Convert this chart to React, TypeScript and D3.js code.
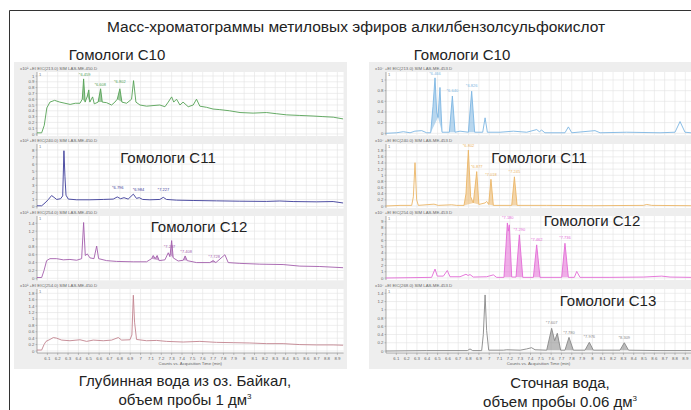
import { useEffect, useRef } from "react";
import * as d3 from "d3";

type Pt = [number, number];
type PeakLabel = { t: number; v: number; text: string };

// retention time ticks (min)
const xTicks = [
  6.1, 6.2, 6.3, 6.4, 6.5, 6.6, 6.7, 6.8, 6.9, 7, 7.1, 7.2, 7.3, 7.4, 7.5,
  7.6, 7.7, 7.8, 7.9, 8, 8.1, 8.2, 8.3, 8.4, 8.5, 8.6, 8.7, 8.8, 8.9,
];

// ---- Байкал (left) ----
const baikalC10: Pt[] = [
  [6.0, 0.02], [6.045, 0.02], [6.07, 0.15], [6.095, 0.45], [6.125, 0.55], [6.17, 0.58],
  [6.22, 0.55], [6.27, 0.53], [6.32, 0.51], [6.37, 0.53], [6.415, 0.53], [6.437, 0.6],
  [6.45, 0.95], [6.465, 0.55], [6.485, 0.65], [6.5, 0.76], [6.51, 0.55], [6.537, 0.64],
  [6.553, 0.52], [6.59, 0.55], [6.614, 0.78], [6.63, 0.55], [6.672, 0.54], [6.72, 0.5],
  [6.752, 0.55], [6.775, 0.6], [6.8, 0.78], [6.82, 0.55], [6.865, 0.53], [6.913, 0.6],
  [6.932, 0.92], [6.955, 0.55], [6.994, 0.5], [7.058, 0.48], [7.12, 0.49], [7.186, 0.5],
  [7.235, 0.47], [7.267, 0.55], [7.3, 0.64], [7.32, 0.55], [7.347, 0.6], [7.38, 0.5],
  [7.41, 0.55], [7.46, 0.47], [7.508, 0.5], [7.54, 0.6], [7.572, 0.48], [7.637, 0.46],
  [7.7, 0.43], [7.765, 0.42], [7.86, 0.4], [7.96, 0.37], [8.087, 0.36], [8.215, 0.37],
  [8.31, 0.35], [8.41, 0.33], [8.537, 0.32], [8.665, 0.31], [8.76, 0.3], [8.86, 0.29],
  [8.955, 0.26],
];
const baikalC10Peaks: Pt[] = [[6.437, 6.465], [6.485, 6.51], [6.59, 6.63], [6.775, 6.82]];
const baikalC10Labels: PeakLabel[] = [
  { t: 6.46, v: 0.98, text: "*6.459" },
  { t: 6.61, v: 0.81, text: "*6.608" },
  { t: 6.8, v: 0.86, text: "*6.802" },
];

const baikalC11: Pt[] = [
  [6.0, 0.1], [6.045, 0.1], [6.077, 0.5], [6.11, 1.0], [6.141, 1.55], [6.164, 1.3],
  [6.19, 1.0], [6.228, 1.1], [6.248, 1.5], [6.26, 7.9], [6.27, 4.2], [6.28, 1.6],
  [6.302, 1.05], [6.383, 0.95], [6.511, 0.95], [6.64, 1.0], [6.736, 1.05], [6.775, 1.35],
  [6.807, 1.1], [6.84, 1.25], [6.88, 1.05], [6.93, 1.75], [6.96, 1.15], [6.987, 1.25],
  [7.02, 1.0], [7.09, 0.95], [7.186, 1.0], [7.219, 1.3], [7.25, 1.0], [7.347, 0.9],
  [7.508, 0.85], [7.733, 0.8], [7.958, 0.75], [8.215, 0.72], [8.344, 0.78], [8.473, 0.7],
  [8.698, 0.66], [8.859, 0.7], [8.955, 0.5],
];
const baikalC11Peaks: Pt[] = [[6.755, 6.81], [6.965, 7.005], [7.2, 7.24]];
const baikalC11Labels: PeakLabel[] = [
  { t: 6.78, v: 2.3, text: "*6.796" },
  { t: 6.98, v: 2.0, text: "*6.984" },
  { t: 7.22, v: 2.0, text: "*7.227" },
];

const baikalC12: Pt[] = [
  [6.0, 0.02], [6.045, 0.02], [6.068, 0.2], [6.093, 0.45], [6.125, 0.5], [6.19, 0.5],
  [6.254, 0.47], [6.318, 0.48], [6.383, 0.46], [6.431, 0.5], [6.45, 1.42], [6.466, 0.58],
  [6.486, 0.62], [6.511, 0.52], [6.55, 0.5], [6.576, 0.82], [6.595, 0.5], [6.672, 0.45],
  [6.768, 0.43], [6.929, 0.42], [7.058, 0.42], [7.106, 0.5], [7.122, 0.58], [7.141, 0.5],
  [7.16, 0.58], [7.18, 0.45], [7.235, 0.47], [7.267, 0.65], [7.283, 0.55], [7.3, 0.96],
  [7.315, 0.52], [7.363, 0.44], [7.412, 0.46], [7.43, 0.57], [7.45, 0.45], [7.54, 0.4],
  [7.669, 0.4], [7.7, 0.45], [7.727, 0.4], [7.814, 0.6], [7.846, 0.4], [7.958, 0.38],
  [8.151, 0.36], [8.376, 0.35], [8.537, 0.31], [8.73, 0.3], [8.955, 0.27],
];
const baikalC12Peaks: Pt[] = [[7.1, 7.18], [7.255, 7.315], [7.412, 7.45], [7.669, 7.727]];
const baikalC12Labels: PeakLabel[] = [
  { t: 7.28, v: 0.75, text: "*7.287" },
  { t: 7.44, v: 0.62, text: "*7.408" },
  { t: 7.71, v: 0.5, text: "*7.728" },
];

const baikalC13: Pt[] = [
  [6.0, 0.03], [6.045, 0.03], [6.068, 0.2], [6.087, 0.3], [6.125, 0.36], [6.158, 0.42],
  [6.19, 0.4], [6.238, 0.34], [6.318, 0.32], [6.415, 0.35], [6.479, 0.3], [6.543, 0.34],
  [6.64, 0.32], [6.72, 0.34], [6.785, 0.42], [6.817, 0.34], [6.897, 0.35], [6.916, 0.5],
  [6.93, 1.74], [6.942, 0.9], [6.961, 0.36], [7.058, 0.32], [7.154, 0.33], [7.25, 0.3],
  [7.412, 0.28], [7.572, 0.3], [7.733, 0.27], [7.894, 0.26], [8.055, 0.25], [8.215, 0.23],
  [8.376, 0.23], [8.537, 0.2], [8.698, 0.19], [8.859, 0.19], [8.955, 0.18],
];

// ---- сточная вода (right) ----
const wasteC10: Pt[] = [
  [6.0, 0.0], [6.103, 0.01], [6.168, 0.03], [6.233, 0.01], [6.28, 0.04], [6.346, 0.05],
  [6.394, 0.01], [6.433, 0.01], [6.455, 0.5], [6.475, 1.04], [6.491, 0.4], [6.504, 0.3],
  [6.523, 0.86], [6.543, 0.02], [6.614, 0.02], [6.643, 0.7], [6.669, 0.02], [6.717, 0.04],
  [6.798, 0.02], [6.83, 0.79], [6.859, 0.02], [6.937, 0.02], [6.96, 0.29], [6.982, 0.02],
  [7.105, 0.02], [7.234, 0.04], [7.363, 0.02], [7.46, 0.07], [7.486, 0.03], [7.508, 0.06],
  [7.54, 0.01], [7.734, 0.01], [7.767, 0.12], [7.8, 0.01], [8.025, 0.05], [8.074, 0.01],
  [8.332, 0.02], [8.655, 0.01], [8.8, 0.02], [8.849, 0.22], [8.897, 0.02], [8.955, 0.01],
];
const wasteC10Peaks: Pt[] = [[6.433, 6.504], [6.504, 6.543], [6.614, 6.669], [6.798, 6.859]];
const wasteC10Labels: PeakLabel[] = [
  { t: 6.475, v: 1.08, text: "*6.466" },
  { t: 6.643, v: 0.76, text: "*6.640" },
  { t: 6.83, v: 0.85, text: "*6.826" },
];

const wasteC11: Pt[] = [
  [6.0, 0.0], [6.136, 0.02], [6.249, 0.02], [6.265, 0.3], [6.281, 1.41], [6.297, 0.2],
  [6.313, 0.02], [6.465, 0.06], [6.507, 0.02], [6.636, 0.04], [6.685, 0.02], [6.756, 0.02],
  [6.775, 0.4], [6.798, 1.82], [6.82, 0.3], [6.846, 0.1], [6.879, 1.12], [6.9, 0.05],
  [6.96, 0.1], [6.975, 0.15], [6.995, 0.05], [7.017, 0.87], [7.04, 0.02], [7.218, 0.02],
  [7.244, 0.95], [7.27, 0.02], [7.557, 0.02], [8.01, 0.01], [8.494, 0.02], [8.526, 0.05],
  [8.574, 0.02], [8.955, 0.01],
];
const wasteC11Peaks: Pt[] = [[6.756, 6.846], [6.846, 6.9], [6.995, 7.04], [7.218, 7.27]];
const wasteC11Labels: PeakLabel[] = [
  { t: 6.8, v: 1.88, text: "*6.802" },
  { t: 6.88, v: 1.2, text: "*6.877" },
  { t: 7.017, v: 0.95, text: "*7.018" },
  { t: 7.244, v: 1.03, text: "*7.245" },
];

const wasteC12: Pt[] = [
  [6.0, 0.0], [6.233, 0.05], [6.442, 0.1], [6.475, 1.43], [6.497, 0.3], [6.556, 0.3],
  [6.594, 1.2], [6.62, 0.2], [6.717, 0.2], [6.775, 0.6], [6.795, 0.4], [6.814, 0.55],
  [6.846, 0.15], [6.975, 0.2], [7.04, 0.5], [7.072, 0.1], [7.143, 0.1], [7.162, 5.0],
  [7.176, 8.8], [7.185, 7.5], [7.195, 8.5], [7.218, 0.15], [7.26, 0.15], [7.292, 6.9],
  [7.325, 0.1], [7.428, 0.1], [7.46, 5.3], [7.492, 0.1], [7.702, 0.1], [7.734, 5.55],
  [7.767, 0.1], [7.825, 0.1], [7.848, 1.05], [7.88, 0.1], [8.17, 0.1], [8.494, 0.15],
  [8.671, 0.3], [8.752, 0.15], [8.955, 0.1],
];
const wasteC12Peaks: Pt[] = [[7.143, 7.218], [7.26, 7.325], [7.428, 7.492], [7.702, 7.767]];
const wasteC12Labels: PeakLabel[] = [
  { t: 7.18, v: 9.2, text: "*7.180" },
  { t: 7.292, v: 7.4, text: "*7.290" },
  { t: 7.46, v: 5.8, text: "*7.462" },
  { t: 7.734, v: 6.0, text: "*7.736" },
];

const wasteC13: Pt[] = [
  [6.0, 0.0], [6.394, 0.01], [6.717, 0.01], [6.788, 0.01], [6.814, 0.05], [6.84, 0.01],
  [6.927, 0.01], [6.943, 0.4], [6.96, 1.36], [6.975, 0.5], [6.995, 0.02], [7.137, 0.02],
  [7.17, 0.03], [7.3, 0.02], [7.363, 0.05], [7.41, 0.08], [7.444, 0.03], [7.557, 0.02],
  [7.605, 0.55], [7.634, 0.25], [7.66, 0.43], [7.692, 0.02], [7.734, 0.02], [7.773, 0.33],
  [7.815, 0.02], [7.928, 0.02], [7.97, 0.21], [8.009, 0.02], [8.267, 0.02], [8.309, 0.2],
  [8.35, 0.02], [8.655, 0.01], [8.955, 0.01],
];
const wasteC13Peaks: Pt[] = [[7.557, 7.692], [7.734, 7.815], [7.928, 8.009], [8.267, 8.35]];
const wasteC13Labels: PeakLabel[] = [
  { t: 7.605, v: 0.62, text: "*7.607" },
  { t: 7.773, v: 0.4, text: "*7.780" },
  { t: 7.97, v: 0.28, text: "*7.976" },
  { t: 8.309, v: 0.27, text: "*8.309" },
];

const ticks01 = [0, 0.1, 0.2, 0.3, 0.4, 0.5, 0.6, 0.7, 0.8, 0.9, 1];
const ticks02to1 = [0, 0.2, 0.4, 0.6, 0.8, 1];
const ticks02to14 = [0, 0.2, 0.4, 0.6, 0.8, 1, 1.2, 1.4];
const ticks02to18 = [0, 0.2, 0.4, 0.6, 0.8, 1, 1.2, 1.4, 1.6, 1.8];
const ticks0to8 = [0, 1, 2, 3, 4, 5, 6, 7, 8];
const ticks0to9 = [0, 1, 2, 3, 4, 5, 6, 7, 8, 9];

const panels = [
  { side: 0, row: 0, trace: baikalC10, peaks: baikalC10Peaks, labels: baikalC10Labels, ticks: ticks01, color: "#55a255", header: "x10¹  +EI EIC(213.0) SIM LAS-ME-450.D", zero: 134, top: 76 },
  { side: 0, row: 1, trace: baikalC11, peaks: baikalC11Peaks, labels: baikalC11Labels, ticks: ticks0to8, color: "#3b3b98", header: "x10¹  +EI EIC(240.0) SIM LAS-ME-450.D", zero: 206.5, top: 150 },
  { side: 0, row: 2, trace: baikalC12, peaks: baikalC12Peaks, labels: baikalC12Labels, ticks: ticks02to14, color: "#a35dab", header: "x10¹  +EI EIC(254.0) SIM LAS-ME-450.D", zero: 278.3, top: 223.3 },
  { side: 0, row: 3, trace: baikalC13, peaks: [] as Pt[], labels: [] as PeakLabel[], ticks: ticks02to18, color: "#c2838f", header: "x10¹  +EI EIC(254.0) SIM LAS-ME-450.D", zero: 351, top: 293.3 },
  { side: 1, row: 0, trace: wasteC10, peaks: wasteC10Peaks, labels: wasteC10Labels, ticks: ticks02to1, color: "#7db6e2", header: "x10⁷  +EI EIC(213.0) SIM LAS-ME-453.D", zero: 133.3, top: 80 },
  { side: 1, row: 1, trace: wasteC11, peaks: wasteC11Peaks, labels: wasteC11Labels, ticks: ticks02to18, color: "#ebb566", header: "x10⁷  +EI EIC(240.0) SIM LAS-ME-453.D", zero: 206, top: 150.7 },
  { side: 1, row: 2, trace: wasteC12, peaks: wasteC12Peaks, labels: wasteC12Labels, ticks: ticks0to9, color: "#e36bd6", header: "x10⁷  +EI EIC(254.0) SIM LAS-ME-453.D", zero: 278, top: 221.7 },
  { side: 1, row: 3, trace: wasteC13, peaks: wasteC13Peaks, labels: wasteC13Labels, ticks: ticks02to14, color: "#878787", header: "x10⁷  +EI EIC(268.0) SIM LAS-ME-453.D", zero: 351, top: 293.3 },
];

const headerY = [69, 141, 213, 286];
const sides = [
  { bgX: 14, bgW: 333, x0: 37, x1: 343.6 },
  { bgX: 369, bgW: 330, x0: 386, x1: 691.5 },
];

const FONT = "'Liberation Sans', Arial, sans-serif";

function App() {
  const ref = useRef<SVGSVGElement>(null);

  useEffect(() => {
    const svg = d3.select(ref.current);
    svg.selectAll("*").remove();

    svg.append("rect").attr("width", 691).attr("height", 410).attr("fill", "#fff");
    svg
      .append("path")
      .attr("d", "M9.5,412V10.5H700")
      .attr("fill", "none")
      .attr("stroke", "#333")
      .attr("stroke-width", 1);

    svg
      .append("text")
      .attr("x", 356)
      .attr("y", 32)
      .attr("text-anchor", "middle")
      .attr("font-family", FONT)
      .attr("font-size", 15.5)
      .attr("fill", "#222")
      .text("Масс-хроматограммы метиловых эфиров алкилбензолсульфокислот");

    sides.forEach((s) => {
      svg
        .append("rect")
        .attr("x", s.bgX)
        .attr("y", 62)
        .attr("width", s.bgW)
        .attr("height", 307)
        .attr("fill", "#eeeeee");
    });

    panels.forEach((p) => {
      const s = sides[p.side];
      const x = d3.scaleLinear().domain([6.0, 8.96]).range([s.x0, s.x1]);
      const topTick = p.ticks[p.ticks.length - 1];
      const y = d3.scaleLinear().domain([0, topTick]).range([p.zero, p.top]);
      const g = svg.append("g");
      const plotTop = headerY[p.row] + 3;
      const plotBottom = p.zero + 2;

      g.append("rect")
        .attr("x", s.x0)
        .attr("y", plotTop)
        .attr("width", s.x1 - s.x0)
        .attr("height", plotBottom - plotTop)
        .attr("fill", "#fff");

      g.selectAll(".vg")
        .data(xTicks)
        .enter()
        .append("line")
        .attr("x1", (d) => x(d))
        .attr("x2", (d) => x(d))
        .attr("y1", plotTop)
        .attr("y2", plotBottom)
        .attr("stroke", "#e2e2e2")
        .attr("stroke-width", 0.6);

      g.selectAll(".hg")
        .data(p.ticks)
        .enter()
        .append("line")
        .attr("x1", s.x0)
        .attr("x2", s.x1)
        .attr("y1", (d) => y(d))
        .attr("y2", (d) => y(d))
        .attr("stroke", "#e2e2e2")
        .attr("stroke-width", 0.6);

      // y axis
      g.append("line")
        .attr("x1", s.x0)
        .attr("x2", s.x0)
        .attr("y1", plotTop)
        .attr("y2", plotBottom)
        .attr("stroke", "#888")
        .attr("stroke-width", 0.7);
      g.selectAll(".yt")
        .data(p.ticks)
        .enter()
        .append("line")
        .attr("x1", s.x0 - 1.5)
        .attr("x2", s.x0)
        .attr("y1", (d) => y(d))
        .attr("y2", (d) => y(d))
        .attr("stroke", "#888")
        .attr("stroke-width", 0.5);
      g.selectAll(".yl")
        .data(p.ticks)
        .enter()
        .append("text")
        .attr("x", s.x0 - 2.5)
        .attr("y", (d) => y(d) + 1.5)
        .attr("text-anchor", "end")
        .attr("font-family", FONT)
        .attr("font-size", 4.3)
        .attr("fill", "#666")
        .text((d) => String(d));

      g.append("text")
        .attr("x", s.bgX + 6)
        .attr("y", headerY[p.row] + 1)
        .attr("font-family", FONT)
        .attr("font-size", 4.3)
        .attr("fill", "#666")
        .text(p.header);

      g.append("text")
        .attr("x", s.x0 + 2)
        .attr("y", plotTop + 4)
        .attr("font-family", FONT)
        .attr("font-size", 4)
        .attr("fill", "#777")
        .text("1");

      // shaded integrated peaks
      const line = d3
        .line<Pt>()
        .x((d) => x(d[0]))
        .y((d) => y(d[1]));
      p.peaks.forEach(([from, to]) => {
        const seg = p.trace.filter((d) => d[0] >= from - 1e-6 && d[0] <= to + 1e-6);
        if (seg.length < 2) return;
        g.append("path")
          .attr("d", line(seg) + "Z")
          .attr("fill", p.color)
          .attr("fill-opacity", 0.55)
          .attr("stroke", "none");
      });

      g.append("path")
        .attr("d", line(p.trace))
        .attr("fill", "none")
        .attr("stroke", p.color)
        .attr("stroke-width", 0.9)
        .attr("stroke-linejoin", "round");

      g.selectAll(".pl")
        .data(p.labels)
        .enter()
        .append("text")
        .attr("x", (d) => x(d.t))
        .attr("y", (d) => y(d.v) - 1)
        .attr("text-anchor", "middle")
        .attr("font-family", FONT)
        .attr("font-size", 4)
        .attr("fill", p.color)
        .text((d) => d.text);

      if (p.row === 3) {
        g.append("line")
          .attr("x1", s.x0)
          .attr("x2", s.x1)
          .attr("y1", plotBottom)
          .attr("y2", plotBottom)
          .attr("stroke", "#888")
          .attr("stroke-width", 0.7);
        g.selectAll(".xt")
          .data(xTicks)
          .enter()
          .append("line")
          .attr("x1", (d) => x(d))
          .attr("x2", (d) => x(d))
          .attr("y1", plotBottom)
          .attr("y2", plotBottom + 2)
          .attr("stroke", "#888")
          .attr("stroke-width", 0.5);
        g.selectAll(".xl")
          .data(xTicks)
          .enter()
          .append("text")
          .attr("x", (d) => x(d))
          .attr("y", plotBottom + 7)
          .attr("text-anchor", "middle")
          .attr("font-family", FONT)
          .attr("font-size", 4.3)
          .attr("fill", "#666")
          .text((d) => String(d));
        g.append("text")
          .attr("x", (s.x0 + Math.min(s.x1, 691)) / 2)
          .attr("y", plotBottom + 12)
          .attr("text-anchor", "middle")
          .attr("font-family", FONT)
          .attr("font-size", 4.3)
          .attr("fill", "#666")
          .text("Counts vs. Acquisition Time (min)");
      }
    });

    const big = [
      { x: 117, y: 60, t: "Гомологи С10" },
      { x: 462, y: 60, t: "Гомологи С10" },
      { x: 168, y: 163, t: "Гомологи С11" },
      { x: 539, y: 163, t: "Гомологи С11" },
      { x: 199, y: 232, t: "Гомологи С12" },
      { x: 592, y: 226, t: "Гомологи С12" },
      { x: 608, y: 306, t: "Гомологи С13" },
    ];
    big.forEach((b) => {
      svg
        .append("text")
        .attr("x", b.x)
        .attr("y", b.y)
        .attr("text-anchor", "middle")
        .attr("font-family", FONT)
        .attr("font-size", 15)
        .attr("fill", "#222")
        .text(b.t);
    });

    const caption = (cx: number, y1: number, l1: string, l2: string) => {
      svg
        .append("text")
        .attr("x", cx)
        .attr("y", y1)
        .attr("text-anchor", "middle")
        .attr("font-family", FONT)
        .attr("font-size", 15)
        .attr("fill", "#222")
        .text(l1);
      const t2 = svg
        .append("text")
        .attr("x", cx)
        .attr("y", y1 + 19)
        .attr("text-anchor", "middle")
        .attr("font-family", FONT)
        .attr("font-size", 15)
        .attr("fill", "#222");
      t2.append("tspan").text(l2);
      t2.append("tspan").attr("dy", -6).attr("font-size", 8).text("3");
    };
    caption(185, 386, "Глубинная вода из оз. Байкал,", "объем пробы 1 дм");
    caption(560, 388, "Сточная вода,", "объем пробы 0.06 дм");
  }, []);

  return (
    <svg
      ref={ref}
      width={691}
      height={410}
      style={{ position: "absolute", left: 0, top: 0 }}
    />
  );
}

export default App;
